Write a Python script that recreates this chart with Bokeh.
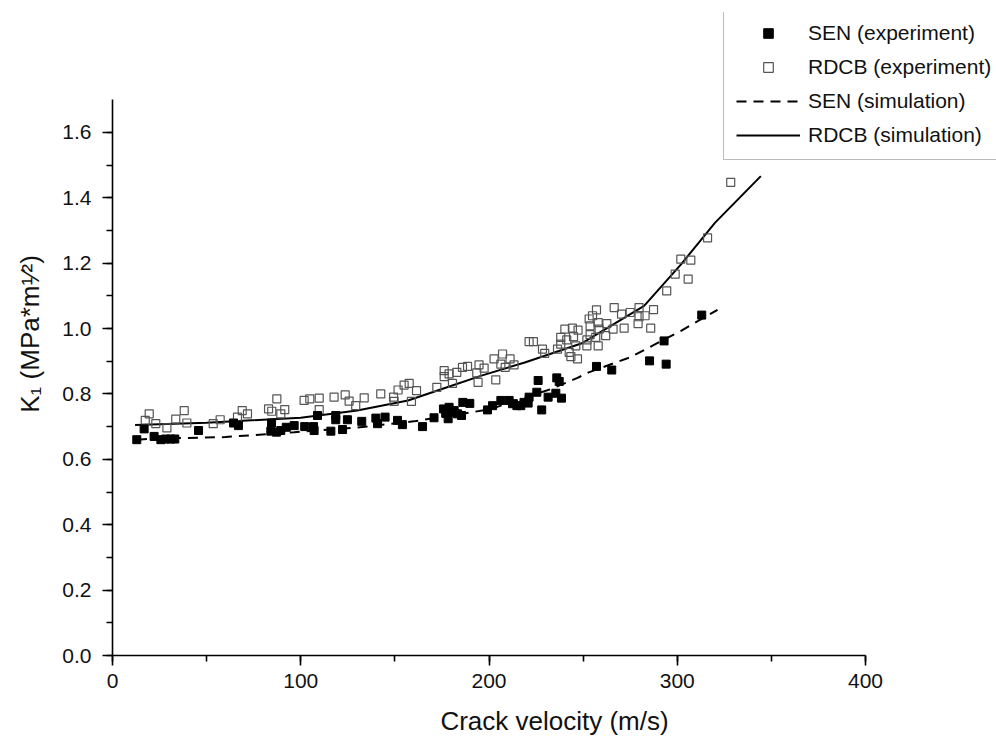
from bokeh.plotting import figure
from bokeh.models import (Range1d, SingleIntervalTicker, PrintfTickFormatter,
                          Legend, LegendItem)
from bokeh.embed import file_html
from bokeh.resources import INLINE

# ---------------- data ----------------
sen_exp_v = [12.9, 16.8, 22.1, 25.7, 28.3, 31.0, 33.1, 45.7, 64.3, 66.9, 84.5, 84.1,
             87.1, 89.4, 92.3, 96.5, 102.1, 106.8, 107.1, 108.9, 116.0, 118.6, 118.6,
             122.2, 124.8, 132.4, 139.9, 140.8, 144.8, 151.4, 154.0, 164.7, 170.8,
             175.8, 177.0, 178.8, 179.7, 181.5, 183.3, 185.4, 186.1, 189.8, 178.3,
             199.2, 201.9, 206.3, 210.7, 212.5, 214.8, 216.9, 218.6, 220.8, 221.3,
             225.4, 226.1, 228.0, 231.4, 235.5, 236.0, 237.3, 238.5,
             257.1, 265.2, 285.3, 293.0, 294.1, 313.0]
sen_exp_k = [0.660, 0.693, 0.670, 0.660, 0.662, 0.662, 0.662, 0.688, 0.711, 0.703, 0.711, 0.686,
             0.683, 0.688, 0.698, 0.703, 0.700, 0.700, 0.688, 0.734, 0.686, 0.734, 0.721,
             0.691, 0.721, 0.716, 0.726, 0.709, 0.729, 0.719, 0.706, 0.700, 0.727,
             0.754, 0.741, 0.759, 0.744, 0.749, 0.739, 0.734, 0.774, 0.771, 0.724,
             0.751, 0.764, 0.780, 0.780, 0.770, 0.764, 0.764, 0.774, 0.772, 0.790,
             0.805, 0.841, 0.751, 0.790, 0.802, 0.849, 0.838, 0.787,
             0.884, 0.873, 0.901, 0.962, 0.891, 1.041]

rdcb_exp_v = [17.4, 19.5, 23.0, 28.9, 33.6, 38.1, 39.5, 53.5, 57.2, 66.4, 68.9, 71.7,
              82.9, 84.6, 87.3, 89.4, 91.5, 101.8, 104.8, 109.8, 109.8, 117.7, 123.6,
              125.7, 129.2, 133.7, 142.5, 149.3, 149.6, 151.7, 154.9, 157.6, 158.8,
              161.5, 172.3, 176.2, 176.2, 178.8, 180.6, 182.9, 185.9, 188.6, 193.5,
              194.7, 194.2, 197.4, 202.7, 203.6, 207.2, 206.3, 208.6, 211.2, 213.3,
              221.3, 223.6, 228.4, 229.6, 236.4, 238.1, 238.1, 240.3, 241.3, 242.6,
              244.3, 244.9, 243.5, 247.3, 247.0, 246.1, 252.0, 253.2, 253.7,
              328.4, 316.1, 301.9, 307.2, 298.9, 305.8, 294.4, 287.4, 285.9, 282.9,
              279.7, 279.7, 279.2, 275.0, 271.8, 270.4, 266.5, 265.9, 262.6, 262.0,
              257.1, 255.0, 258.0, 258.5, 253.7, 256.7, 252.0, 258.0]
rdcb_exp_k = [0.719, 0.739, 0.709, 0.696, 0.723, 0.749, 0.711, 0.709, 0.721, 0.729, 0.749, 0.739,
              0.754, 0.747, 0.785, 0.739, 0.752, 0.780, 0.785, 0.787, 0.752, 0.790, 0.797,
              0.778, 0.764, 0.788, 0.800, 0.790, 0.777, 0.812, 0.827, 0.832, 0.777,
              0.810, 0.820, 0.871, 0.853, 0.861, 0.832, 0.866, 0.881, 0.884, 0.864,
              0.889, 0.835, 0.879, 0.907, 0.843, 0.922, 0.891, 0.881, 0.907, 0.889,
              0.960, 0.960, 0.937, 0.924, 0.937, 0.973, 0.952, 0.998, 0.965, 0.927,
              1.001, 0.975, 0.914, 0.995, 0.907, 0.947, 0.947, 1.029, 1.008,
              1.447, 1.277, 1.212, 1.209, 1.166, 1.151, 1.115, 1.058, 1.001, 1.039,
              1.064, 1.036, 1.015, 1.049, 1.001, 1.044, 1.064, 0.998, 1.015, 0.978,
              1.057, 1.039, 1.018, 0.998, 0.981, 0.973, 0.965, 0.947]

sen_sim_v = [13, 20, 60, 96.5, 128, 160, 191, 201, 233, 247, 253, 275, 302, 321.4]
sen_sim_k = [0.660, 0.663, 0.668, 0.683, 0.696, 0.716, 0.744, 0.754, 0.815, 0.849, 0.866,
             0.912, 0.993, 1.057]

rdcb_sim_v = [12, 50, 100, 130, 157, 175, 196, 219, 249, 282.4, 302, 320, 344.4]
rdcb_sim_k = [0.705, 0.712, 0.727, 0.749, 0.780, 0.815, 0.856, 0.896, 0.954, 1.069,
              1.196, 1.323, 1.466]

legend_labels = ["SEN (experiment)", "RDCB (experiment)", "SEN (simulation)", "RDCB (simulation)"]
x_title = "Crack velocity (m/s)"
y_title = "K\u2081 (MPa*m\u00b9\u2044\u00b2)"

# ---------------- layout ----------------
W, H = 996, 738
ML, MR, MT, MB = 112, 0, 12, 83
PX_PER_V = 1.8825
PX_PER_K = 327.0
x_end = (W - ML - MR) / PX_PER_V
y_end = (H - MT - MB) / PX_PER_K

FONT = "Liberation Sans"

p = figure(width=W, height=H, output_backend="svg", toolbar_location=None,
           x_range=Range1d(0, x_end), y_range=Range1d(0, y_end),
           min_border_left=ML, min_border_right=MR, min_border_top=MT,
           min_border_bottom=MB)
p.outline_line_color = None
p.xgrid.visible = False
p.ygrid.visible = False
p.background_fill_color = "white"
p.border_fill_color = "white"

r_sen_sim = p.line(sen_sim_v, sen_sim_k, line_color="black", line_width=2, line_dash="10 7")
r_rdcb_sim = p.line(rdcb_sim_v, rdcb_sim_k, line_color="black", line_width=2)
r_rdcb = p.scatter(rdcb_exp_v, rdcb_exp_k, marker="square", size=8, fill_color=None,
                   line_color="#555555", line_width=1.2)
r_sen = p.scatter(sen_exp_v, sen_exp_k, marker="square", size=8, fill_color="black",
                  line_color="black")

# axes
xa = p.xaxis[0]
xa.ticker = SingleIntervalTicker(interval=100, num_minor_ticks=2)
xa.formatter = PrintfTickFormatter(format="%d")
xa.bounds = (0, 400)
ya = p.yaxis[0]
ya.ticker = SingleIntervalTicker(interval=0.2, num_minor_ticks=2)
ya.formatter = PrintfTickFormatter(format="%.1f")
ya.bounds = (0, 1.7)
for ax in (xa, ya):
    ax.axis_line_width = 1.6
    ax.axis_line_color = "black"
    ax.major_tick_line_width = 1.6
    ax.minor_tick_line_width = 1.6
    ax.major_tick_line_color = "black"
    ax.minor_tick_line_color = "black"
    ax.major_tick_in = 0
    ax.major_tick_out = 10
    ax.minor_tick_in = 0
    ax.minor_tick_out = 6
    ax.major_label_text_font = FONT
    ax.major_label_text_font_size = "21px"
    ax.major_label_text_color = "#111111"
    ax.axis_label_text_font = FONT
    ax.axis_label_text_font_size = "26px"
    ax.axis_label_text_font_style = "normal"
    ax.axis_label_text_color = "#111111"
xa.major_label_standoff = 8
ya.major_label_standoff = 11
xa.axis_label = x_title
xa.axis_label_standoff = 15
ya.axis_label = y_title
ya.axis_label_standoff = 14

legend = Legend(items=[
    LegendItem(label=legend_labels[0], renderers=[r_sen]),
    LegendItem(label=legend_labels[1], renderers=[r_rdcb]),
    LegendItem(label=legend_labels[2], renderers=[r_sen_sim]),
    LegendItem(label=legend_labels[3], renderers=[r_rdcb_sim]),
], location=(611, 495))
legend.border_line_color = "#777777"
legend.border_line_width = 1
legend.background_fill_color = "white"
legend.background_fill_alpha = 1
legend.label_text_font = FONT
legend.label_text_font_size = "21px"
legend.label_text_color = "#111111"
legend.glyph_width = 64
legend.glyph_height = 24
legend.label_height = 24
legend.label_standoff = 8
legend.spacing = 10
legend.padding = 12
legend.margin = 0
p.add_layout(legend, "center")

open("out.html", "w").write(file_html(p, INLINE))
